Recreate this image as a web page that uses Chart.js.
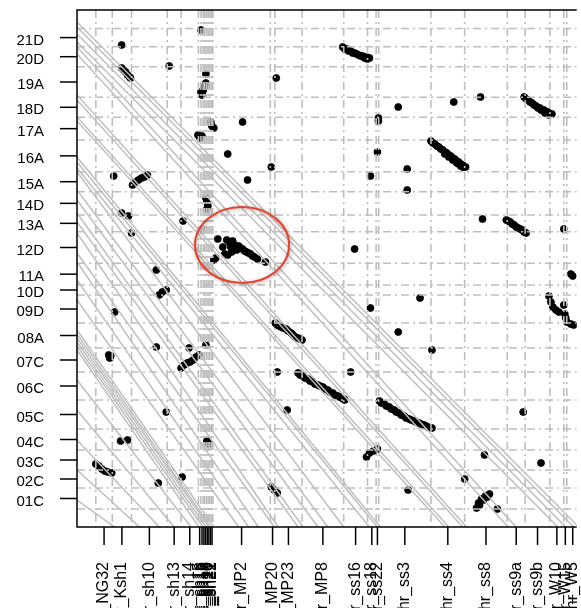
<!DOCTYPE html>
<html>
<head>
<meta charset="utf-8">
<script src="https://cdn.jsdelivr.net/npm/chart.js@4"></script>
<style>
html,body{margin:0;padding:0;background:#fff;overflow:hidden;}
canvas{display:block;}
</style>
</head>
<body>
<canvas id="c" width="581" height="608"></canvas>
<script>
// ---- Data (positions along the concatenated sequences) ----
const xBounds = [0, 16.6, 36, 72, 86, 103.5, 106, 108.2, 109.8, 111.5, 113.2, 114.8, 116.5, 118, 176, 180.5, 208, 250, 274, 282.7, 285.3, 338, 372, 415, 433, 458, 472, 475, 487];
const xLabels = ["Chr_NG32","Chr_Ksh1","Chr_sh10","Chr_sh13","Chr_sh14","Chr_sh15","Chr_sh16","Chr_sh17","Chr_sh18","Chr_sh19","Chr_sh20","Chr_sh21","Chr_sh22","Chr_MP2","Chr_MP20","Chr_MP23","Chr_MP8","Chr_ss16","Chr_ss18","Chr_ss22","Chr_ss3","Chr_ss4","Chr_ss8","Chr_ss9a","Chr_ss9b","Chr_W10","Chr_W15","Chr_W5"];
const yBounds = [0, 21, 39, 59, 80, 109, 137, 161, 186, 214, 224, 245.7, 277.3, 294, 317.3, 337.3, 369, 391.7, 411.7, 442.3, 462.3, 480.5];
const yLabels = ["01C","02C","03C","04C","05C","06C","07C","08A","09D","10D","11A","12D","13A","14D","15A","16A","17A","18D","19A","20D","21D"];

// matched positions [x, y]
const hits = [
[26,464],
[26,441],[28,439],[30,437],[32,434],[34,432],[35,431],
[74,443],[106,479],[111,435],
[107,414],[108,418],[109,421],[110,424],[111,426],[106,417],
[182,431],
[116,387],[117,383],[119,381],
[103,374],[105,371],[107,373],
[148,387],[133,355],[177,342],[153,329],
[111,311],[112,307],[113,303],[112,300],
[88,288],
[123,270],[132,269],[135,266],[138,268],[140,264],[144,263],[142,259],[137,257],[133,254],[148,260],[152,257],[156,255],[160,252],[163,250],[130,255],[121,251],[119,249],[171,247],[128,262],
[146,261],[150,258],[154,256],[158,253],[136,262],
[18,333],
[37,324],[40,327],[43,329],[46,331],[49,332],[52,334],
[26,296],[33,293],[36,276],[61,239],
[64,214],[67,217],[71,219],
[19,197],[61,162],
[13,154],[14,151],[15,153],
[94,161],[111,164],
[86,141],[89,144],[92,146],[95,147],[98,149],[101,152],[104,154],
[71,97],[25,68],[32,69],[112,68],[114,65],
[0,45],[3,43],[6,40],[9,38],[12,37],[16,36],
[63,26],[87,32],
[177,22],[180,19],[183,16],
[183,137],
[181,186],[185,183],[189,181],[194,178],[199,174],[204,171],[208,169],
[183,184],[187,182],[192,180],[197,176],[201,172],[206,170],
[193,99],
[204,136],[209,133],[214,130],[219,127],[224,124],[229,122],[234,119],[239,116],[244,113],[248,111],[251,109],
[206,134],[211,131],[216,128],[221,125],[226,123],[231,120],[236,117],[241,114],[246,112],[250,110],
[257,137],
[273,52],[276,56],[280,58],[284,60],
[277,201],
[249,462],[253,460],[257,458],[261,456],[265,454],[269,453],[273,452],[276,451],
[251,460],[255,458],[259,456],[263,455],[267,453],[271,451],[274,450],
[305,402],[285,391],[285,388],[361,407],[388,412],
[432,412],[436,409],[440,406],[444,403],[448,401],[452,399],[456,397],[460,395],
[434,410],[438,407],[442,404],[446,401],[450,399],[454,397],[458,395],[449,399],[453,396],[457,394],
[338,368],[342,365],[346,362],[350,359],[354,356],[358,353],[362,350],[366,347],[370,344],[373,342],
[340,366],[344,363],[348,360],[352,357],[356,354],[360,351],[364,348],[368,345],[352,355],[356,352],[360,349],[364,346],[368,343],[371,342],[366,345],[370,342],
[284,357],[277,333],[314,340],[314,319],[390,290],
[414,289],[418,287],[422,284],[426,281],[430,279],[434,276],
[416,288],[420,285],[424,282],[428,280],[432,277],
[472,280],[261,260],[479,235],[481,233],[327,211],
[457,213],[459,207],[461,202],[464,199],[467,197],
[472,204],
[473,195],[474,191],[475,187],[479,185],[482,184],
[305,177],[339,159],
[286,108],[291,105],[296,102],[301,99],[306,96],[311,93],[316,90],[321,88],[326,86],[331,84],[335,82],[339,81],
[288,106],[293,103],[298,100],[303,97],[308,94],[313,91],[318,89],[323,87],[328,85],[333,83],[337,81],
[431,97],[392,54],[449,46],[372,30],[315,19],
[384,1],[386,6],[389,10],[393,13],[397,15],[387,4],[391,9],[395,12],
[405,0]
];

// grey reference lines: y where they leave the left axis, x where they meet the bottom axis
const diagStartY = [487,482,475,467,462,455, 414,409,392,388, 352,347,341,337, 319,309,296,287,276, 256,247,229,209, 179,175,171,167,163,159, 129,99,69,39,9];
const diagEndX   = [487,482,474,466,424,416, 374,370,356,352, 287,284,276,250, 234,224,209,204,184, 180,164,154,144, 119,116,114,111,108,104, 96,79,64,44,19];

// ---- Chart ----
const X_MIN = -19, X_MAX = 485, Y_MIN = -18, Y_MAX = 499;
const FONT = "'Liberation Sans', Arial, Helvetica, sans-serif";

const mids = b => b.slice(0, -1).map((v, i) => (v + b[i + 1]) / 2);

const datasets = [{
  type: 'scatter',
  data: hits.map(p => ({x: p[0], y: p[1]})),
  pointRadius: 3.5,
  pointBorderWidth: 0.8,
  pointBorderColor: '#000',
  pointBackgroundColor: '#000',
  pointHoverRadius: 3.5,
  order: 2
}];
diagStartY.forEach((sy, i) => {
  datasets.push({
    type: 'line',
    data: [{x: X_MIN, y: sy}, {x: diagEndX[i], y: Y_MIN}],
    borderColor: '#BEBEBE',
    borderWidth: 1.5,
    pointRadius: 0,
    fill: false,
    order: 1
  });
});

const deco = {
  id: 'deco',
  afterDatasetsDraw(chart) {
    const {ctx, chartArea: a, scales: {x, y}} = chart;
    ctx.save();
    ctx.beginPath();
    ctx.rect(a.left, a.top, a.right - a.left, a.bottom - a.top);
    ctx.clip();
    ctx.strokeStyle = '#BEBEBE';
    ctx.lineWidth = 1.6;
    ctx.setLineDash([8, 4, 2, 4]);
    xBounds.forEach(v => {
      const p = x.getPixelForValue(v);
      ctx.beginPath(); ctx.moveTo(p, a.top); ctx.lineTo(p, a.bottom); ctx.stroke();
    });
    yBounds.forEach(v => {
      const p = y.getPixelForValue(v);
      ctx.beginPath(); ctx.moveTo(a.left, p); ctx.lineTo(a.right, p); ctx.stroke();
    });
    ctx.restore();
  },
  afterDraw(chart) {
    const {ctx, chartArea: a, scales: {x, y}} = chart;
    ctx.save();
    // red ellipse highlight
    const cx = x.getPixelForValue(147.5), cy = y.getPixelForValue(264);
    const rx = Math.abs(x.getPixelForValue(147.5 + 47.5) - cx);
    const ry = Math.abs(y.getPixelForValue(264 + 38) - cy);
    ctx.save();
    ctx.shadowColor = 'rgba(0,0,0,0.35)';
    ctx.shadowBlur = 4;
    ctx.shadowOffsetX = 1; ctx.shadowOffsetY = 1;
    ctx.strokeStyle = '#E8432F';
    ctx.lineWidth = 2;
    ctx.beginPath();
    ctx.ellipse(cx, cy, rx, ry, 0, 0, Math.PI * 2);
    ctx.stroke();
    ctx.restore();

    // frame
    ctx.strokeStyle = '#000';
    ctx.lineWidth = 1.5;
    ctx.beginPath();
    ctx.moveTo(a.right, a.top); ctx.lineTo(a.left, a.top);
    ctx.lineTo(a.left, a.bottom); ctx.lineTo(a.right, a.bottom);
    ctx.stroke();

    // y ticks + labels
    ctx.fillStyle = '#000';
    ctx.font = '15px ' + FONT;
    ctx.textAlign = 'right';
    ctx.textBaseline = 'middle';
    mids(yBounds).forEach((v, i) => {
      const p = y.getPixelForValue(v);
      ctx.beginPath(); ctx.moveTo(a.left - 17, p); ctx.lineTo(a.left, p); ctx.stroke();
      ctx.fillText(yLabels[i], a.left - 33, p + 3);
    });

    // x ticks + labels
    ctx.font = '16px ' + FONT;
    mids(xBounds).forEach((v, i) => {
      const p = x.getPixelForValue(v);
      ctx.beginPath(); ctx.moveTo(p, a.bottom); ctx.lineTo(p, a.bottom + 18); ctx.stroke();
      ctx.save();
      ctx.translate(p, a.bottom + 35);
      ctx.rotate(-Math.PI / 2);
      ctx.textAlign = 'right';
      ctx.textBaseline = 'middle';
      ctx.fillText(xLabels[i], 0, 0);
      ctx.restore();
    });
    ctx.restore();
  }
};

new Chart(document.getElementById('c'), {
  type: 'scatter',
  data: {datasets},
  options: {
    responsive: false,
    animation: false,
    devicePixelRatio: 1,
    layout: {padding: {left: 77, top: 10, right: 0, bottom: 81}},
    scales: {
      x: {type: 'linear', min: X_MIN, max: X_MAX, display: false},
      y: {type: 'linear', min: Y_MIN, max: Y_MAX, display: false}
    },
    plugins: {legend: {display: false}, tooltip: {enabled: false}},
    events: []
  },
  plugins: [deco]
});
</script>
</body>
</html>
